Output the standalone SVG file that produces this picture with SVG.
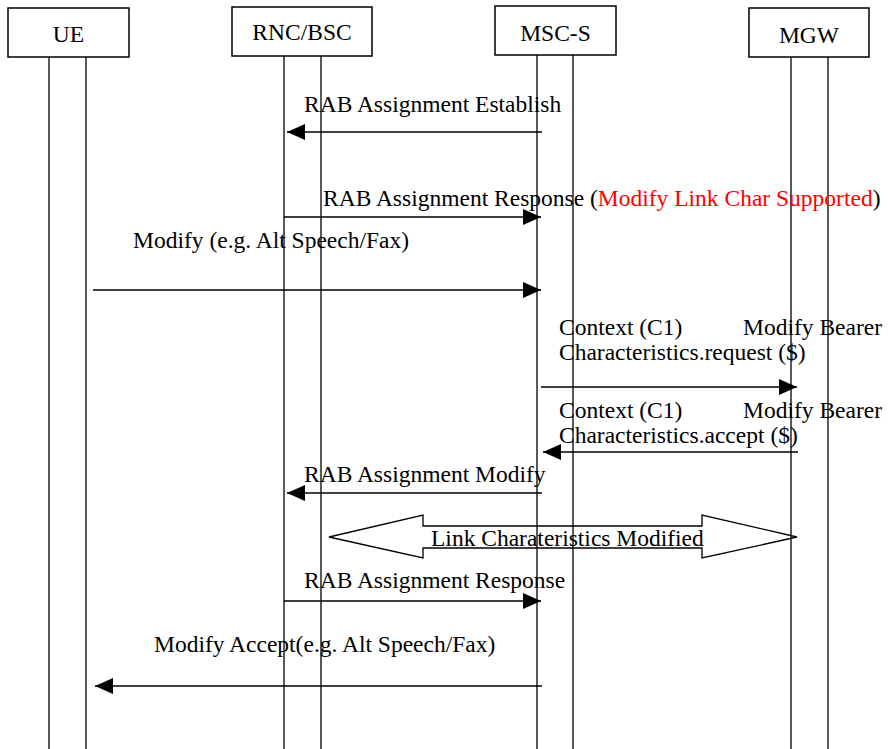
<svg xmlns="http://www.w3.org/2000/svg" width="888" height="749" viewBox="0 0 888 749">
<defs>
<style>
text{font-family:"Liberation Serif","Times New Roman",serif;font-size:23.5px;fill:#000}
.box{fill:#fff;stroke:#000;stroke-width:1.5}
.life{stroke:#000;stroke-width:1.3;fill:none}
.msg{stroke:#000;stroke-width:1.5;fill:none;marker-end:url(#ah)}
.red{fill:#ff0000}
.lbl{text-anchor:middle}
</style>
<marker id="ah" markerUnits="userSpaceOnUse" markerWidth="18" markerHeight="16" refX="18" refY="8" orient="auto">
<path d="M0,0 L18,8 L0,16 Z" fill="#000"/>
</marker>
</defs>
<rect width="888" height="749" fill="#fff"/>
<g id="UE">
<rect class="box" x="8" y="8" width="121" height="49"/>
<text class="lbl" x="68.5" y="42">UE</text>
<line class="life" x1="49" y1="57" x2="49" y2="749"/>
<line class="life" x1="86" y1="57" x2="86" y2="749"/>
</g>
<g id="RNC">
<rect class="box" x="232" y="7" width="140" height="49"/>
<text class="lbl" x="302" y="40">RNC/BSC</text>
<line class="life" x1="284" y1="56" x2="284" y2="749"/>
<line class="life" x1="321" y1="56" x2="321" y2="749"/>
</g>
<g id="MSCS">
<rect class="box" x="495" y="6" width="121" height="49"/>
<text class="lbl" x="555.5" y="41">MSC-S</text>
<line class="life" x1="537" y1="55" x2="537" y2="749"/>
<line class="life" x1="573" y1="55" x2="573" y2="749"/>
</g>
<g id="MGW">
<rect class="box" x="749" y="8" width="120" height="49"/>
<text class="lbl" x="809" y="43">MGW</text>
<line class="life" x1="791" y1="57" x2="791" y2="749"/>
<line class="life" x1="828" y1="57" x2="828" y2="749"/>
</g>
<g id="connectors">
<line class="msg" x1="542" y1="132" x2="287" y2="132"/>
<line class="msg" x1="284" y1="217" x2="541" y2="217"/>
<line class="msg" x1="93" y1="290" x2="541" y2="290"/>
<line class="msg" x1="541" y1="387" x2="797" y2="387"/>
<line class="msg" x1="798" y1="452" x2="543" y2="452"/>
<line class="msg" x1="542" y1="493" x2="287" y2="493"/>
<line class="msg" x1="284" y1="601" x2="541" y2="601"/>
<line class="msg" x1="542" y1="686" x2="95" y2="686"/>
<polygon points="329,537 423,515 423,526 702,526 702,515 797,537 702,558 702,548 423,548 423,558" fill="none" stroke="#000" stroke-width="1.3"/>
</g>
<g id="labels">
<text x="304" y="112">RAB Assignment Establish</text>
<text x="323" y="206">RAB Assignment Response (<tspan class="red">Modify Link Char Supported</tspan>)</text>
<text x="133" y="248">Modify (e.g. Alt Speech/Fax)</text>
<text x="559" y="335">Context (C1)</text>
<text x="743" y="335">Modify Bearer</text>
<text x="559" y="360">Characteristics.request ($)</text>
<text x="559" y="418">Context (C1)</text>
<text x="743" y="418">Modify Bearer</text>
<text x="559" y="443">Characteristics.accept ($)</text>
<text x="304" y="482">RAB Assignment Modify</text>
<text x="431" y="546">Link Charateristics Modified</text>
<text x="304" y="588">RAB Assignment Response</text>
<text x="154" y="652">Modify Accept(e.g. Alt Speech/Fax)</text>
</g>
</svg>
